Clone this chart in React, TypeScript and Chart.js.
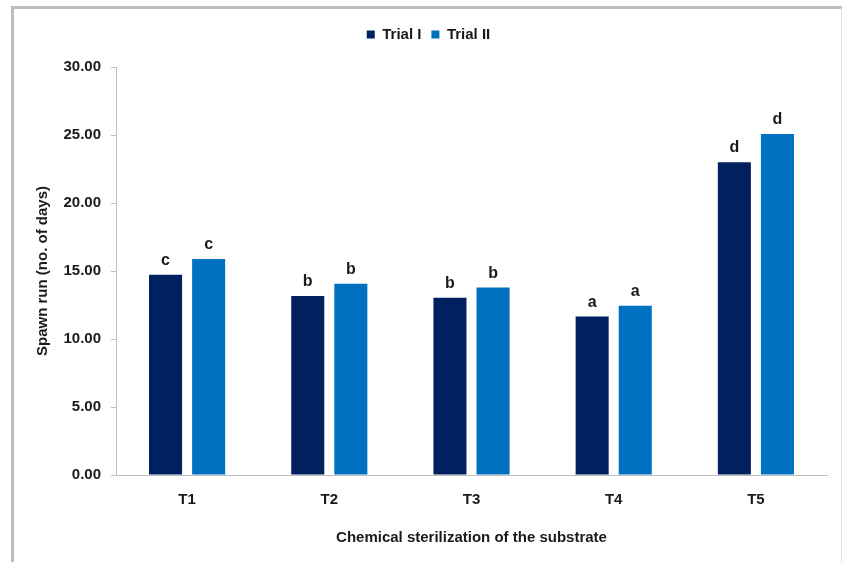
import React, { useEffect, useRef } from "react";
import { Chart, registerables } from "chart.js";

Chart.register(...registerables);

// Spawn run (days) per chemical sterilization treatment
const categories = ["T1", "T2", "T3", "T4", "T5"];
const trial1 = [14.72, 13.17, 13.03, 11.65, 23.0];
const trial2 = [15.88, 14.07, 13.78, 12.45, 25.08];
// Significance letters shown above each bar
const letters1 = ["c", "b", "b", "a", "d"];
const letters2 = ["c", "b", "b", "a", "d"];
const yTicks = [0, 5, 10, 15, 20, 25, 30];

const FONT = '"Liberation Sans", Arial, sans-serif';
const TEXT = "#1a1a1a";
const AXIS = "#bfbfbf";

const letterPlugin = {
  id: "barLetters",
  afterDatasetsDraw(chart: any) {
    const { ctx } = chart;
    const sets = [letters1, letters2];
    ctx.save();
    ctx.font = `bold 16px ${FONT}`;
    ctx.fillStyle = TEXT;
    ctx.textAlign = "center";
    ctx.textBaseline = "alphabetic";
    chart.data.datasets.forEach((_: any, di: number) => {
      const meta = chart.getDatasetMeta(di);
      meta.data.forEach((bar: any, i: number) => {
        ctx.fillText(sets[di][i], bar.x, bar.y - 10);
      });
    });
    ctx.restore();
  },
};

// Extra space between the legend and the plot area
const legendGap = {
  id: "legendGap",
  beforeLayout(chart: any) {
    const legend = chart.legend;
    if (legend && !legend._gapPatched) {
      const fit = legend.fit;
      legend.fit = function () {
        fit.call(this);
        this.height += 15;
      };
      legend._gapPatched = true;
    }
  },
};

export default function App() {
  const ref = useRef<HTMLCanvasElement>(null);

  useEffect(() => {
    if (!ref.current) return;
    const chart = new Chart(ref.current, {
      type: "bar",
      data: {
        labels: categories,
        datasets: [
          {
            label: "Trial I",
            data: trial1,
            backgroundColor: "#002060",
            categoryPercentage: 0.606,
            barPercentage: 0.767,
          },
          {
            label: "Trial II",
            data: trial2,
            backgroundColor: "#0070C0",
            categoryPercentage: 0.606,
            barPercentage: 0.767,
          },
        ],
      },
      plugins: [letterPlugin, legendGap],
      options: {
        responsive: false,
        animation: false,
        layout: { padding: { left: 30, right: 15, top: 17, bottom: 11 } },
        plugins: {
          tooltip: { enabled: false },
          legend: {
            position: "top",
            labels: {
              boxWidth: 8,
              boxHeight: 8,
              padding: 10,
              color: TEXT,
              font: { family: FONT, size: 15, weight: "bold" },
            },
          },
        },
        scales: {
          x: {
            grid: { display: false },
            border: { display: true, color: AXIS, width: 1 },
            ticks: {
              padding: 8,
              color: TEXT,
              font: { family: FONT, size: 15, weight: "bold" },
            },
            title: {
              display: true,
              text: "Chemical sterilization of the substrate",
              color: TEXT,
              font: { family: FONT, size: 15, weight: "bold" },
              padding: { top: 12, bottom: 4 },
            },
          },
          y: {
            min: 0,
            max: 30,
            afterFit(scale: any) {
              scale.width = 86;
            },
            afterBuildTicks(scale: any) {
              scale.ticks = yTicks.map((v) => ({ value: v }));
            },
            grid: {
              display: true,
              drawOnChartArea: false,
              drawTicks: true,
              tickLength: 5,
              color: AXIS,
            },
            border: { display: true, color: AXIS, width: 1 },
            ticks: {
              padding: 10,
              color: TEXT,
              font: { family: FONT, size: 15, weight: "bold" },
              callback: (v: any) => Number(v).toFixed(2),
            },
            title: {
              display: true,
              text: "Spawn run (no. of days)",
              color: TEXT,
              font: { family: FONT, size: 15, weight: "bold" },
              padding: { top: 4, bottom: 4 },
            },
          },
        },
      },
    });
    return () => chart.destroy();
  }, []);

  return (
    <div
      style={{
        position: "fixed",
        left: 0,
        top: 0,
        width: 842,
        height: 562,
        background: "#fff",
        overflow: "hidden",
      }}
    >
      <canvas
        ref={ref}
        width={842}
        height={562}
        style={{ position: "absolute", left: 0, top: 0, width: 842, height: 562 }}
      />
      <div
        style={{
          position: "absolute",
          left: 11,
          top: 6,
          width: 831,
          height: 570,
          boxSizing: "border-box",
          borderTop: "3px solid #bdbdbd",
          borderLeft: "3px solid #bdbdbd",
          borderRight: "1px solid #e2e2e2",
          pointerEvents: "none",
        }}
      />
    </div>
  );
}
